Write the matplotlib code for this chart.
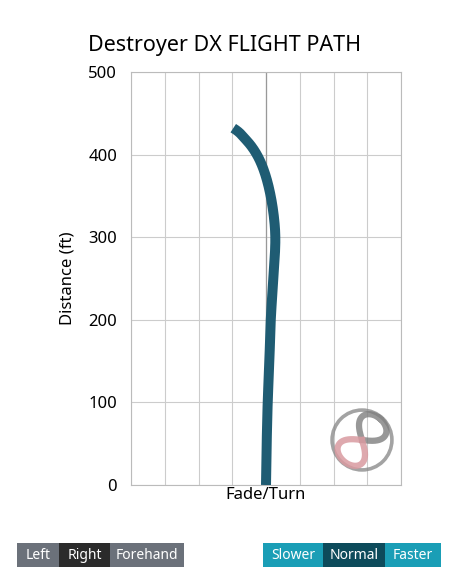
import numpy as np
import matplotlib
matplotlib.use("Agg")
import matplotlib.pyplot as plt
from matplotlib.patches import Rectangle, Circle

plt.rcParams['font.family'] = ['Noto Sans', 'DejaVu Sans']

# Flight path data (lateral in grid units, distance in ft)
distance = [0, 50, 100, 150, 200, 250, 300, 330, 350, 375, 400, 420, 432]
lateral = [0.0, 0.02, 0.05, 0.10, 0.14, 0.22, 0.28, 0.22, 0.14, -0.01, -0.26, -0.62, -0.97]
yticks = [0, 100, 200, 300, 400, 500]
title = "Destroyer DX FLIGHT PATH"
left_buttons = ["Left", "Right", "Forehand"]
speed_buttons = ["Slower", "Normal", "Faster"]

W, H = 454, 575
fig = plt.figure(figsize=(W / 100, H / 100), dpi=100)
ax = fig.add_axes([131 / W, 1 - 485 / H, 270 / W, 413 / H])

d = np.array(distance, float)
l = np.array(lateral, float)
ds = np.linspace(d[0], d[-1], 400)
try:
    from scipy.interpolate import PchipInterpolator
    ls = PchipInterpolator(d, l)(ds)
except Exception:
    ls = np.interp(ds, d, l)
k = 25
ker = np.ones(k) / k
pad = np.pad(ls, (k // 2, k // 2), mode='edge')
sm = np.convolve(pad, ker, mode='valid')
w = np.clip(np.minimum(ds - d[0], d[-1] - ds) / 15.0, 0, 1)
ls = w * sm + (1 - w) * ls

ax.plot(ls, ds, color='#1f5c73', lw=7.2, solid_capstyle='butt', zorder=3)

ax.set_xlim(-4, 4)
ax.set_ylim(0, 500)
ax.set_xticks(np.arange(-4, 5, 1))
ax.set_yticks(yticks)
ax.grid(True, color='#cccccc', lw=0.8)
ax.axvline(0, color='#999999', lw=0.9, zorder=1)
ax.set_axisbelow(True)
for s in ax.spines.values():
    s.set_color('#bbbbbb')
    s.set_linewidth(0.8)
ax.tick_params(length=0, labelsize=12, pad=10)
ax.set_xticklabels([])
ax.set_xlabel("Fade/Turn", fontsize=12)
ax.xaxis.set_label_coords(0.5, -2 / 413)
ax.set_ylabel("Distance (ft)", fontsize=12, labelpad=9)

fig.text(225 / W, 1 - 46 / H, title, ha='center', va='center', fontsize=15.5)

# logo
lax = fig.add_axes([328 / W, 1 - 474 / H, 68 / W, 68 / H])
lax.set_xlim(-1, 1)
lax.set_ylim(-1, 1)
lax.set_aspect('equal')
lax.axis('off')
lax.add_patch(Circle((0, 0), 0.88, fill=False, ec='#8c8c8c', lw=2.6, alpha=0.8))
t = np.linspace(0, 2 * np.pi, 400)
a = 0.78
lx = a * np.cos(t) / (1 + np.sin(t) ** 2)
ly = a * np.sin(t) * np.cos(t) / (1 + np.sin(t) ** 2)
lx = lx * 1.05
ly = ly * 1.6
ang = np.deg2rad(50)
rx = lx * np.cos(ang) - ly * np.sin(ang)
ry = lx * np.sin(ang) + ly * np.cos(ang)
up = rx + ry >= 0
lax.plot(np.where(up, rx, np.nan), np.where(up, ry, np.nan), color='#7f7f7f', lw=4.5, alpha=0.8)
lax.plot(np.where(~up, rx, np.nan), np.where(~up, ry, np.nan), color='#d99aa0', lw=4.5, alpha=0.85)

# buttons
bax = fig.add_axes([0, 0, 1, 1], zorder=-1)
bax.set_xlim(0, W)
bax.set_ylim(H, 0)
bax.axis('off')
left_edges = [17, 59, 110, 184]
left_colors = ['#6b717a', '#2b2b2b', '#6b717a']
speed_edges = [263, 323, 385, 441]
speed_colors = ['#1a9eb6', '#0d4b5b', '#1a9eb6']
for labels, edges, colors in [(left_buttons, left_edges, left_colors),
                              (speed_buttons, speed_edges, speed_colors)]:
    for i, lab in enumerate(labels):
        x0, x1 = edges[i], edges[i + 1]
        bax.add_patch(Rectangle((x0, 543), x1 - x0, 24, color=colors[i], lw=0))
        bax.text((x0 + x1) / 2, 555.5, lab, ha='center', va='center',
                 color='white', fontsize=10)

fig.savefig("out.png", dpi=100, facecolor='white')
